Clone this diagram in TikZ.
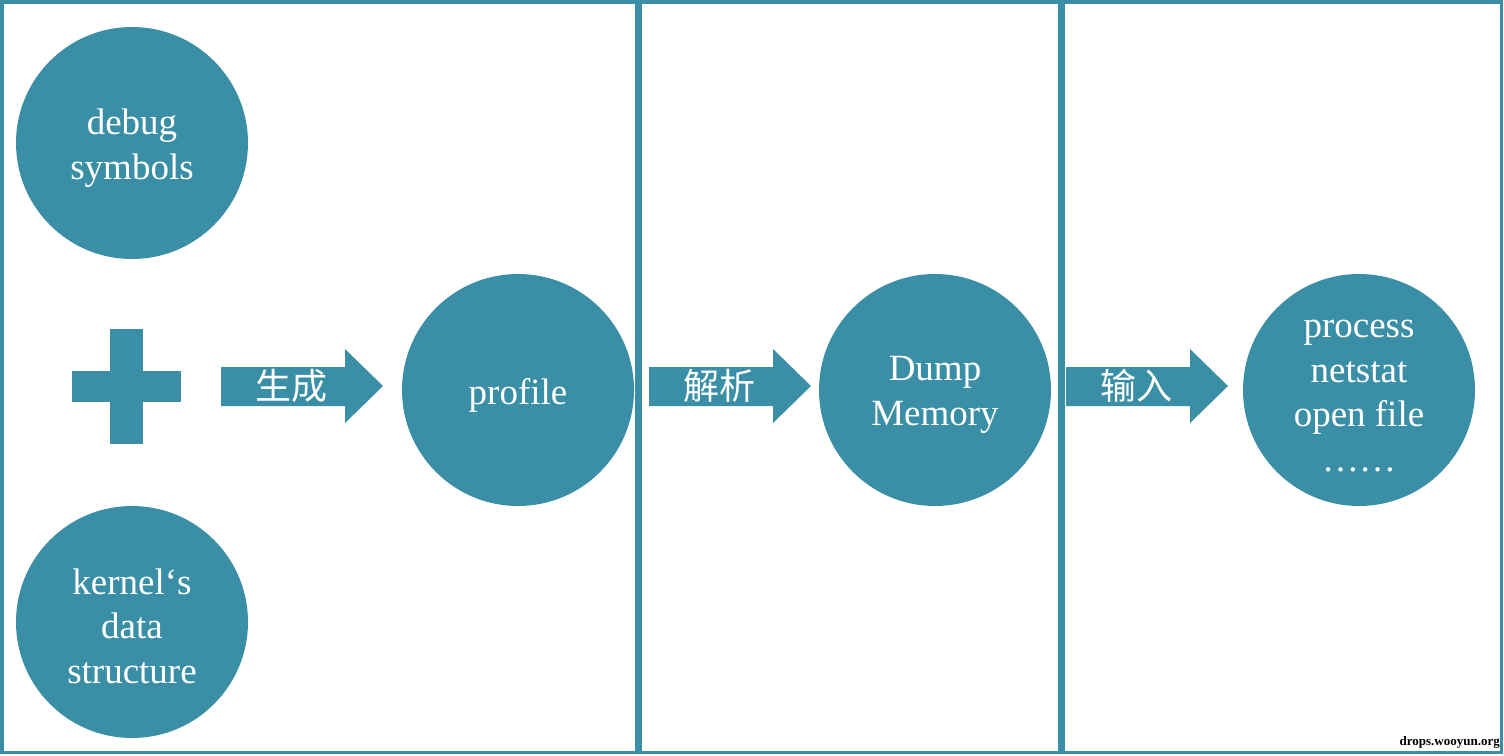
\documentclass[tikz,border=0pt]{standalone}
\usepackage{fontspec}
\setmainfont{Liberation Serif}
\newfontfamily\cjk{Noto Sans CJK SC}
\definecolor{teal1}{RGB}{58,143,166}
\tikzset{
  bubble/.style={circle, fill=teal1, minimum size=232pt, inner sep=0pt},
  bubbletext/.style={text=white, align=center, inner sep=0pt,
    font=\fontsize{37}{44.5}\selectfont},
  panel/.style={draw=teal1, line width=3.5pt},
  blockarrow/.style={fill=teal1},
  arrowlabel/.style={text=white, font=\cjk\fontsize{36}{38}\selectfont, inner sep=0pt},
  plusbar/.style={fill=teal1},
  mark text/.style={text=black, font=\bfseries\fontsize{13}{14}\selectfont, inner sep=0pt}
}
\begin{document}
\begin{tikzpicture}[x=1pt, y=-1pt]
\useasboundingbox (0,0) rectangle (1504,755);
\fill[white] (0,0) rectangle (1504,755);
% panels
\draw[panel] (2,2) rectangle (636.5,752.5);
\draw[panel] (640,2) rectangle (1059.5,752.5);
\draw[panel] (1063,2) rectangle (1501.5,752.5);
% bubbles
\node[bubble] (debug) at (132,143) {};
\node[bubble] (kernel) at (132,622) {};
\node[bubble] (profile) at (518,390) {};
\node[bubble] (dump) at (935,390) {};
\node[bubble] (proc) at (1359,390) {};
\node[bubbletext] (debugT) at ([yshift=-5pt]debug.center) {debug\\symbols};
\node[bubbletext] (kernelT) at ([yshift=-4pt]kernel.center) {kernel‘s\\data\\structure};
\node[bubbletext] (profileT) at ([yshift=-5pt]profile.center) {profile};
\node[bubbletext] (dumpT) at ([yshift=-5pt]dump.center) {Dump\\Memory};
\node[bubbletext] (procT) at ([yshift=-6pt]proc.center) {process\\netstat\\open file\\……};
% plus sign
\fill[plusbar] (110,329) rectangle (143,444);
\fill[plusbar] (72,371) rectangle (181,402);
% block arrows
\foreach \xo/\lab/\nm in {221/生成/a1, 649/解析/a2, 1066/输入/a3}{
  \fill[blockarrow] (\xo,367) -- ++(124,0) -- ++(0,-18) -- ++(38,37) -- ++(-38,37) -- ++(0,-17) -- (\xo,406) -- cycle;
  \node[arrowlabel] (\nm) at (\xo+70,386) {\lab};
}
% watermark
\node[mark text, anchor=south east] (wm) at (1500,749) {drops.wooyun.org};
\end{tikzpicture}
\end{document}
